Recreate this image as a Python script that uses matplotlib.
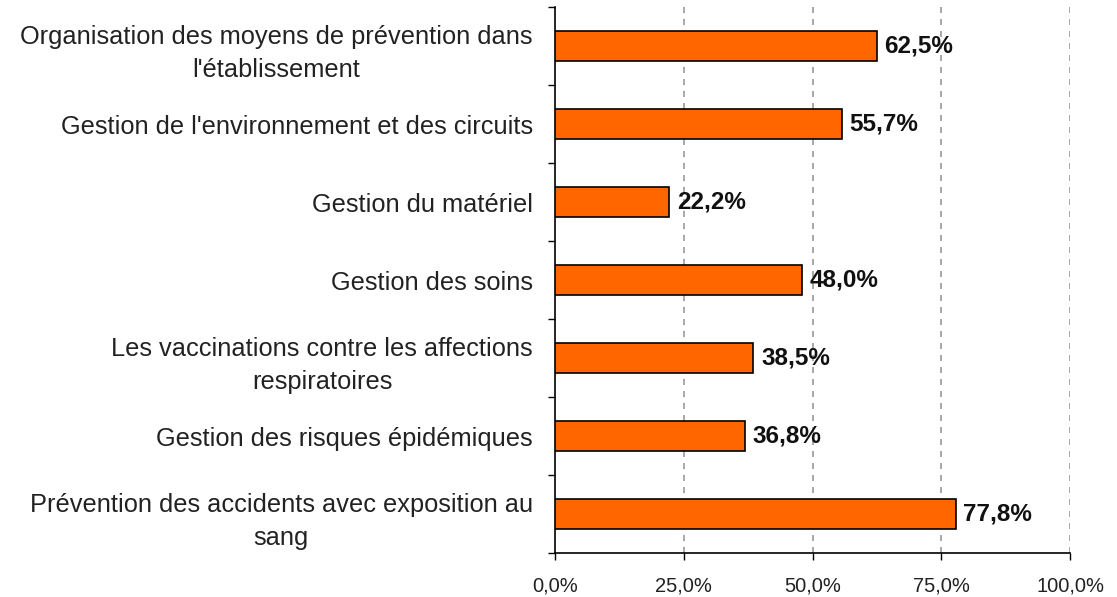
import matplotlib
matplotlib.use("Agg")
import matplotlib.pyplot as plt
import numpy as np

categories = [
    "Organisation des moyens de prévention dans\nl'établissement",
    "Gestion de l'environnement et des circuits",
    "Gestion du matériel",
    "Gestion des soins",
    "Les vaccinations contre les affections\nrespiratoires",
    "Gestion des risques épidémiques",
    "Prévention des accidents avec exposition au\nsang",
]
values = [62.5, 55.7, 22.2, 48.0, 38.5, 36.8, 77.8]
xticks = [0, 25, 50, 75, 100]
xticklabels = ["0,0%", "25,0%", "50,0%", "75,0%", "100,0%"]

plt.rcParams['font.family'] = ['Liberation Sans', 'DejaVu Sans']

fig = plt.figure(figsize=(11.17, 5.97), dpi=100)
ax = fig.add_axes([555/1117, 1-553/597, (1070-555)/1117, (553-7)/597])

n = len(categories)
y = np.arange(n)
ax.barh(y, values, height=0.38, color="#FF6600", edgecolor="black", linewidth=1.2, zorder=3)
for yi, v in zip(y, values):
    ax.text(v + 1.5, yi, f"{v:.1f}%".replace(".", ","), va="center", ha="left",
            fontsize=17.5, fontweight="bold", color="#111111", zorder=4)

ax.set_ylim(n - 0.5, -0.5)
ax.set_xlim(0, 100)
ax.set_yticks(y)
ax.set_yticklabels(categories, fontsize=18.3, multialignment="center",
                   linespacing=1.5, color="#222222")
ax.set_yticks(np.arange(-0.5, n, 1.0), minor=True)
ax.tick_params(axis="y", which="major", length=0, pad=16)
ax.tick_params(axis="y", which="minor", length=5, width=1, direction="out")
ax.set_xticks(xticks)
ax.set_xticklabels(xticklabels, fontsize=14.5, color="#222222")
ax.tick_params(axis="x", length=5, width=1, direction="out", pad=12)

for xv in xticks[1:]:
    ax.axvline(xv, color="#999999", linestyle=(0, (3.6, 3.6)), linewidth=1.2, zorder=1)

ax.spines['top'].set_visible(False)
ax.spines['right'].set_visible(False)
for s in ['left', 'bottom']:
    ax.spines[s].set_linewidth(1.2)

fig.savefig("out.png", dpi=100)
